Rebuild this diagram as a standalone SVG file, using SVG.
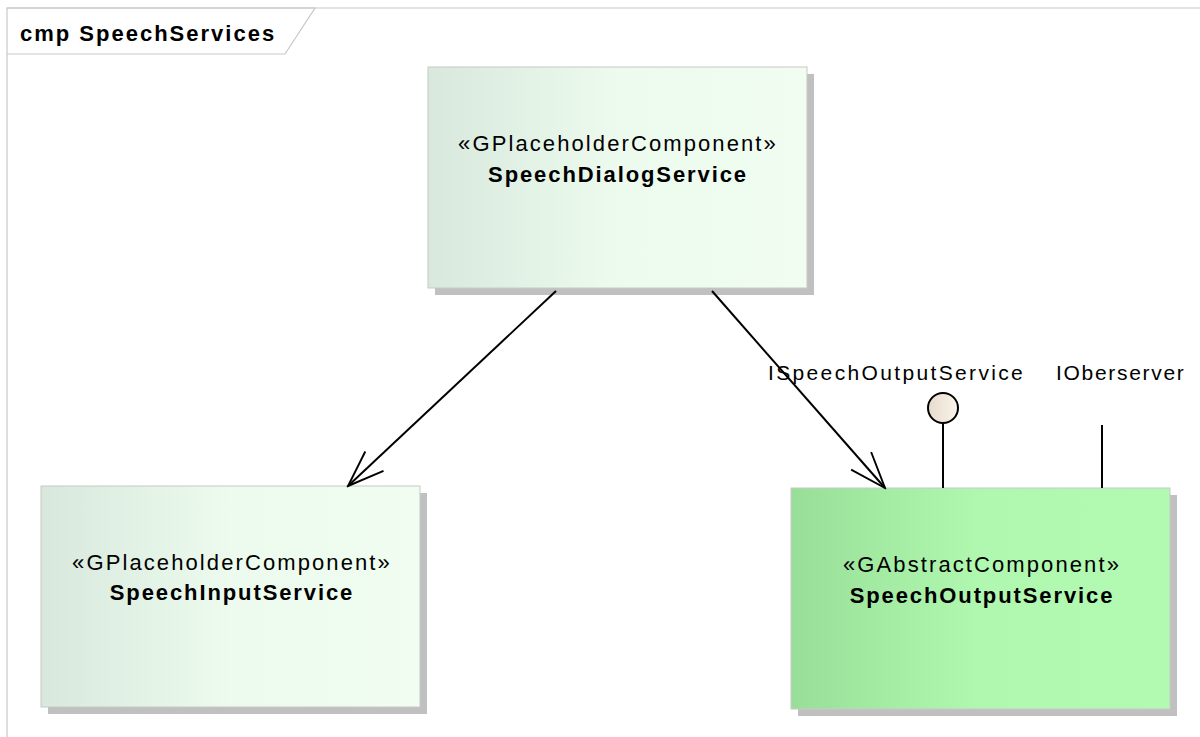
<svg xmlns="http://www.w3.org/2000/svg" width="1200" height="737" viewBox="0 0 1200 737">
<defs>
<linearGradient id="gPh" x1="0" y1="0" x2="1" y2="0">
<stop offset="0" stop-color="#d8e8dc"/>
<stop offset="0.5" stop-color="#ecfbee"/>
<stop offset="1" stop-color="#f0fdf0"/>
</linearGradient>
<linearGradient id="gAb" x1="0" y1="0" x2="1" y2="0">
<stop offset="0" stop-color="#98de98"/>
<stop offset="0.5" stop-color="#b0f8b0"/>
<stop offset="1" stop-color="#b2f9b2"/>
</linearGradient>
<linearGradient id="gLol" x1="0" y1="0" x2="1" y2="0">
<stop offset="0" stop-color="#e6dccc"/>
<stop offset="1" stop-color="#faf4ea"/>
</linearGradient>
<marker id="open" markerWidth="40" markerHeight="40" refX="0" refY="0" viewBox="-40 -20 42 40" orient="auto" markerUnits="userSpaceOnUse">
<path d="M-38,-14 L0,0 L-38,14" fill="none" stroke="#000" stroke-width="2"/>
</marker>
<style>
.frame{fill:none;stroke:#c8c8c8;stroke-width:1.2}
.shadow{fill:#c0c0c0}
.box{stroke:#c8c8c8;stroke-width:1}
.st{font-family:"Liberation Sans",Arial,sans-serif;font-size:22px;letter-spacing:2.1px;fill:#000;text-anchor:middle}
.nm{font-family:"Liberation Sans",Arial,sans-serif;font-size:22px;letter-spacing:1.9px;font-weight:bold;fill:#000;text-anchor:middle}
.lbl{font-family:"Liberation Sans",Arial,sans-serif;font-size:21px;fill:#000}
.conn{stroke:#000;stroke-width:2;fill:none}
</style>
</defs>
<rect width="1200" height="737" fill="#fff"/>
<g id="frame">
<path class="frame" d="M7,737 L7,8 L1200,8"/>
<path class="frame" d="M7,8 L315,8 L285,54 L7,54"/>
<text x="20" y="41" font-family="Liberation Sans, Arial, sans-serif" font-size="22" letter-spacing="2" font-weight="bold" fill="#000">cmp SpeechServices</text>
</g>
<g id="SpeechDialogService">
<rect class="shadow" x="435" y="74" width="379" height="221"/>
<rect class="box" x="428" y="67" width="379" height="221" fill="url(#gPh)"/>
<text class="st" x="618" y="151">«GPlaceholderComponent»</text>
<text class="nm" x="618" y="182">SpeechDialogService</text>
</g>
<g id="SpeechInputService">
<rect class="shadow" x="48" y="493" width="379" height="221"/>
<rect class="box" x="41" y="486" width="379" height="221" fill="url(#gPh)"/>
<text class="st" x="232" y="570">«GPlaceholderComponent»</text>
<text class="nm" x="232" y="600">SpeechInputService</text>
</g>
<g id="SpeechOutputService">
<rect class="shadow" x="798" y="495" width="379" height="221"/>
<rect class="box" x="791" y="488" width="379" height="221" fill="url(#gAb)"/>
<text class="st" x="982" y="572">«GAbstractComponent»</text>
<text class="nm" x="982" y="603">SpeechOutputService</text>
</g>
<g id="ISpeechOutputService">
<line class="conn" x1="943" y1="423" x2="943" y2="488"/>
<circle cx="943" cy="408" r="15" fill="url(#gLol)" stroke="#000" stroke-width="2"/>
<text class="lbl" x="768" y="380" letter-spacing="2.35">ISpeechOutputService</text>
</g>
<g id="IOberserver">
<line class="conn" x1="1102" y1="425" x2="1102" y2="488"/>
<text class="lbl" x="1056" y="380" letter-spacing="1.7">IOberserver</text>
</g>
<g id="connectors">
<line class="conn" x1="556" y1="291" x2="348" y2="486" marker-end="url(#open)"/>
<line class="conn" x1="712" y1="291" x2="885" y2="488" marker-end="url(#open)"/>
</g>
</svg>
